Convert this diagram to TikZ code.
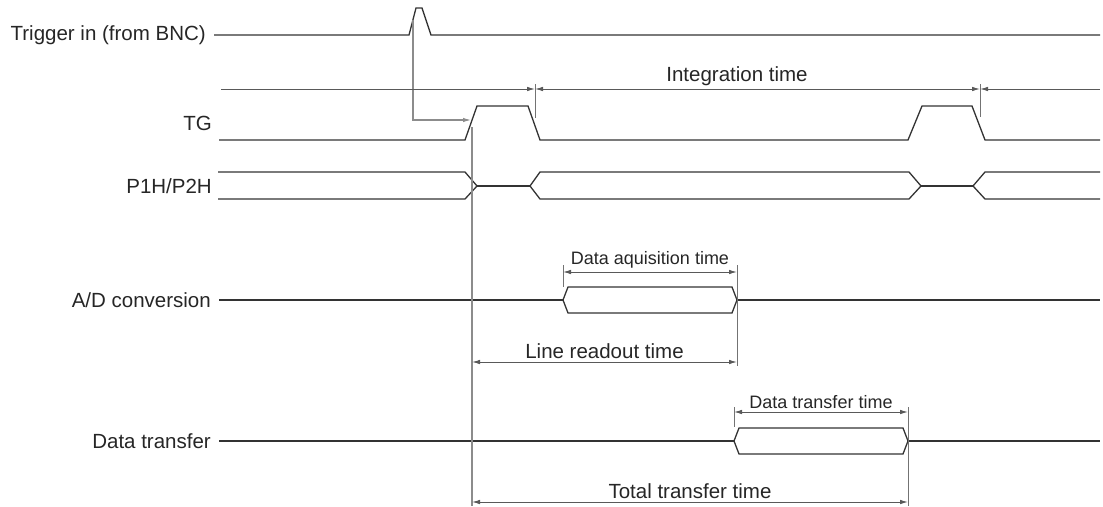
\documentclass[tikz,border=0pt]{standalone}
\usepackage{fontspec}
\setmainfont{Liberation Sans}
\usetikzlibrary{arrows.meta,positioning}
\tikzstyle{sig}=[draw, line width=1.3pt, color=black!80]
\tikzstyle{dimline}=[draw, line width=0.9pt, color=black!65]
\tikzstyle{guide}=[draw, line width=1.1pt, color=black!45]
\tikzstyle{tick}=[draw, line width=1pt, color=black!55]
\tikzstyle{lbl}=[anchor=east, inner sep=0pt, text=black!85,
  font=\fontsize{20.5}{24}\selectfont]
\tikzstyle{dimtxt}=[above, inner sep=3pt, text=black!85,
  font=\fontsize{20.5}{24}\selectfont]
\tikzstyle{smalltxt}=[dimtxt, font=\fontsize{18}{22}\selectfont]
\newcommand{\busbox}[4]{%
  % hexagon from x #1 to x #2 round the level #3
  \path[sig] (#1,#3) -- (#1+5,#3-13) -- (#2-5,#3-13) -- (#2,#3)
    -- (#2-5,#3+13) -- (#1+5,#3+13) -- cycle;
  \coordinate (#4-w) at (#1,#3);
  \coordinate (#4-e) at (#2,#3);}

\begin{document}
\begin{tikzpicture}[x=1pt,y=-1pt,>={Latex[length=8pt,width=4.5pt]}]
  \useasboundingbox (0,0) rectangle (1103,506);

  % Draw signal names
  \node[lbl] (trig) at (206,35) {Trigger in (from BNC)};
  \node[lbl] (tg) at (212,123) {TG};
  \node[lbl] (php) at (212,186) {P1H/P2H};
  \node[lbl] (adc) at (211,300) {A/D conversion};
  \node[lbl] (dtr) at (211,441) {Data transfer};

  % Draw waveforms
  \path[sig] ([xshift=8pt]trig.east) -- (409,35) -- (416,8) -- (422,8)
    -- (431,35) -- (1100,35);
  \path[sig] (219,140) -- (465,140) -- (477,106) -- (528,106) -- (540,140)
    -- (908,140) -- (922,106) -- (972,106) -- (985,140) -- (1100,140);

  \path[sig] (218,172) -- (465,172) -- (477,186) -- (465,199) -- (218,199);
  \path[sig] (477,186) -- (530,186);
  \path[sig] (530,186) -- (540,172) -- (909,172) -- (921,186) -- (909,199)
    -- (540,199) -- cycle;
  \path[sig] (921,186) -- (973,186);
  \path[sig] (1100,172) -- (985,172) -- (973,186) -- (985,199) -- (1100,199);

  \busbox{563}{737}{300}{ad}
  \path[sig] ([xshift=8pt]adc.east) -- (ad-w);
  \path[sig] (ad-e) -- (1100,300);

  \busbox{734}{908}{441}{dt}
  \path[sig] ([xshift=8pt]dtr.east) -- (dt-w);
  \path[sig] (dt-e) -- (1100,441);

  % Trigger starts TG
  \coordinate (trigrise) at (413,20);
  \coordinate (tgrise) at (471,120);
  \path[guide,->] (trigrise) |- (tgrise);
  \path[guide] (472,127) -- (472,506);

  % Integration time
  \path[tick] (535,84) -- (535,118);
  \path[tick] (980,84) -- (980,117);
  \path[dimline,->] (221,89) -- (535,89);
  \path[dimline,<->] (535,89) -- (980,89);
  \path[dimline,<-] (980,89) -- (1100,89);
  \node[dimtxt] (intt) at (737,89) {Integration time};

  % A/D conversion times
  \path[tick] (563,265) -- (563,287);
  \path[tick] (737,265) -- (737,366);
  \path[dimline,<->] (563,272) -- node[smalltxt] (acqt) {Data aquisition time} (737,272);
  \path[dimline,<->] (472,362) -- node[dimtxt] (rdt) {Line readout time} (737,362);

  % Data transfer times
  \path[tick] (734,407) -- (734,427);
  \path[tick] (908,407) -- (908,506);
  \path[dimline,<->] (734,412) -- node[smalltxt] (dtt) {Data transfer time} (908,412);
  \path[dimline,<->] (472,502) -- node[dimtxt] (tott) {Total transfer time} (908,502);
\end{tikzpicture}
\end{document}
